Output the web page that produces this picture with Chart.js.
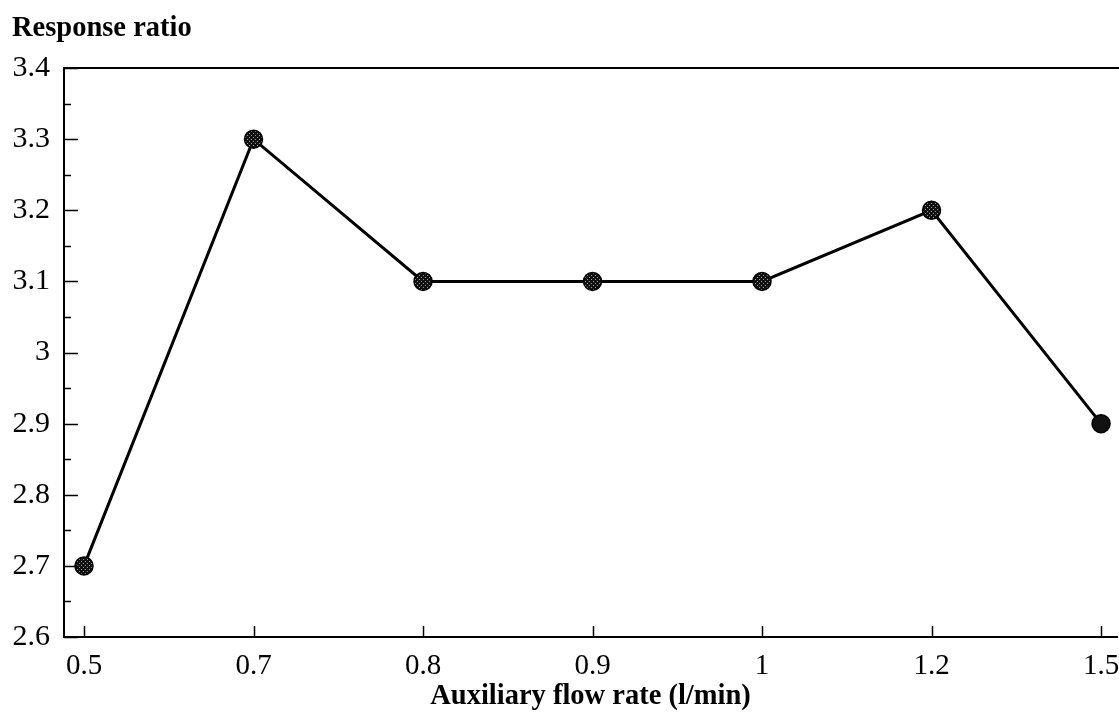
<!DOCTYPE html>
<html>
<head>
<meta charset="utf-8">
<script src="https://cdn.jsdelivr.net/npm/chart.js@4"></script>
<style>
  html, body { margin: 0; padding: 0; background: #fff; }
  #wrap { width: 1119px; height: 722px; }
</style>
</head>
<body>
<div id="wrap"><canvas id="c" width="1119" height="722"></canvas></div>
<script>
const categories = ['0.5', '0.7', '0.8', '0.9', '1', '1.2', '1.5'];
const responseRatio = [2.7, 3.3, 3.1, 3.1, 3.1, 3.2, 2.9];
const yTickLabels = ['2.6', '2.7', '2.8', '2.9', '3', '3.1', '3.2', '3.3', '3.4'];
const yTitle = 'Response ratio';
const xTitle = 'Auxiliary flow rate (l/min)';

const SERIF = '"Liberation Serif", "Times New Roman", serif';

// dotted marker fill pattern
function makePattern(dark) {
  const pc = document.createElement('canvas');
  pc.width = 4; pc.height = 4;
  const g = pc.getContext('2d');
  g.fillStyle = '#111';
  g.fillRect(0, 0, 4, 4);
  if (!dark) {
    g.fillStyle = '#9a9a9a';
    g.fillRect(1, 1, 1, 1);
    g.fillRect(3, 3, 1, 1);
  }
  return g.createPattern(pc, 'repeat');
}
const patLight = makePattern(false);
const patDark = makePattern(true);

const innerTicks = {
  id: 'innerTicks',
  afterDraw(chart) {
    const ctx = chart.ctx;
    const a = chart.chartArea;
    const ys = chart.scales.y, xs = chart.scales.x;
    ctx.save();
    ctx.strokeStyle = '#000';
    ctx.lineWidth = 1.5;
    for (let k = 0; k <= 16; k++) {
      const v = 2.6 + k * 0.05;
      const py = Math.round(ys.getPixelForValue(v)) + 0.5;
      const len = (k % 2 === 0) ? 14 : 7;
      ctx.beginPath();
      ctx.moveTo(a.left, py);
      ctx.lineTo(a.left + len, py);
      ctx.stroke();
    }
    categories.forEach((_, i) => {
      const px = Math.round(xs.getPixelForValue(i)) + 0.5;
      ctx.beginPath();
      ctx.moveTo(px, a.bottom);
      ctx.lineTo(px, a.bottom - 11);
      ctx.stroke();
    });
    ctx.lineWidth = 2;
    ctx.beginPath();
    ctx.moveTo(a.left, a.top);
    ctx.lineTo(chart.width, a.top);
    ctx.stroke();
    ctx.restore();
  }
};

new Chart(document.getElementById('c'), {
  type: 'line',
  data: {
    datasets: [{
      data: responseRatio.map((v, i) => ({ x: i, y: v })),
      borderColor: '#000',
      borderWidth: 3,
      tension: 0,
      pointRadius: 9,
      pointHoverRadius: 9,
      pointBorderColor: '#000',
      pointBorderWidth: 1.5,
      pointBackgroundColor: responseRatio.map((_, i) => i === responseRatio.length - 1 ? patDark : patLight)
    }]
  },
  options: {
    responsive: false,
    animation: false,
    devicePixelRatio: 1,
    layout: { autoPadding: false, padding: { left: 12, right: 2, top: 0, bottom: 0 } },
    plugins: {
      legend: { display: false },
      tooltip: { enabled: false },
      title: {
        display: true,
        text: yTitle,
        align: 'start',
        color: '#000',
        font: { family: SERIF, size: 28.5, weight: 'bold', lineHeight: 1.2 },
        padding: { top: 12, bottom: 21.8 }
      }
    },
    scales: {
      x: {
        type: 'linear',
        min: -0.118,
        max: 6.094,
        afterBuildTicks: (s) => { s.ticks = categories.map((_, i) => ({ value: i })); },
        afterFit: (s) => { s.height = 85; s.paddingLeft = 0; s.paddingRight = 0; },
        grid: { display: false, drawTicks: false, tickLength: 0 },
        border: { display: true, color: '#000', width: 2 },
        ticks: {
          color: '#000',
          font: { family: SERIF, size: 29 },
          padding: 12,
          maxRotation: 0,
          autoSkip: false,
          callback: (v) => categories[v]
        },
        title: {
          display: true,
          text: xTitle,
          color: '#000',
          font: { family: SERIF, size: 28.5, weight: 'bold', lineHeight: 1.2 },
          padding: { top: 0, bottom: 8 }
        }
      },
      y: {
        min: 2.6,
        max: 3.4,
        afterBuildTicks: (s) => { s.ticks = yTickLabels.map((_, i) => ({ value: 2.6 + i * 0.1 })); },
        afterFit: (s) => { s.width = 52; s.paddingTop = 0; s.paddingBottom = 0; },
        grid: { display: false, drawTicks: false, tickLength: 0 },
        border: { display: true, color: '#000', width: 2 },
        ticks: {
          color: '#000',
          font: { family: SERIF, size: 30 },
          padding: 14,
          autoSkip: false,
          callback: (v, i) => yTickLabels[i]
        }
      }
    }
  },
  plugins: [innerTicks]
});
</script>
</body>
</html>
